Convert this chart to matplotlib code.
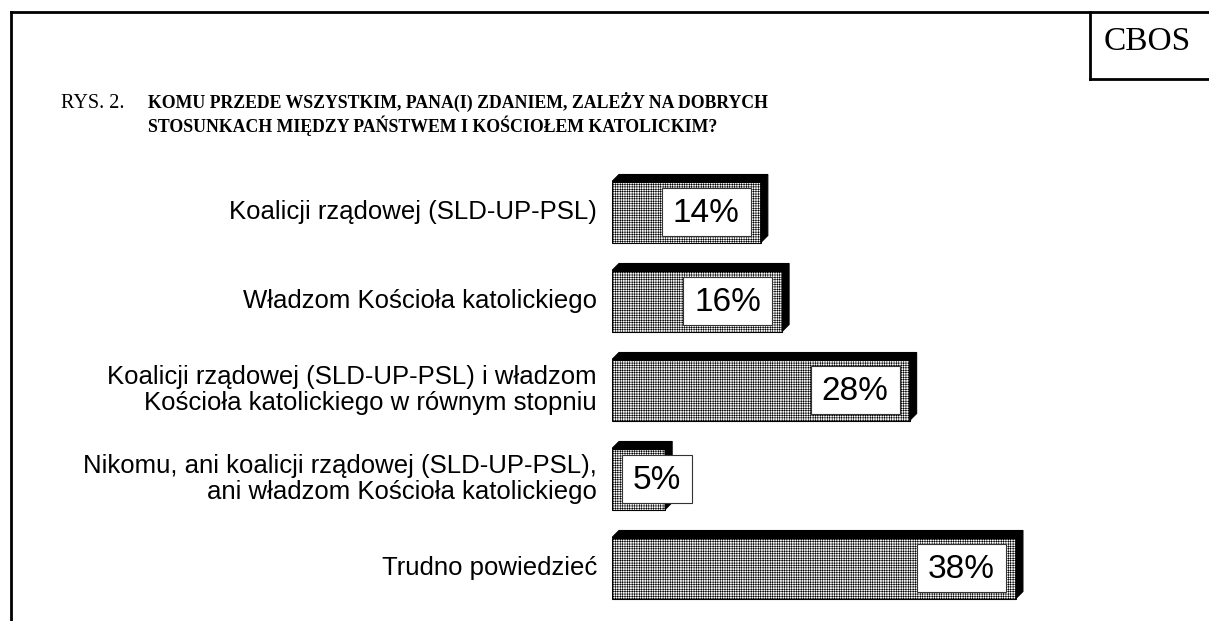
import matplotlib.pyplot as plt
from matplotlib.patches import Polygon, Rectangle
from matplotlib.lines import Line2D

plt.rcParams['hatch.linewidth'] = 0.4
plt.rcParams['hatch.color'] = '#8c8c8c'

categories = [
    'Koalicji rządowej (SLD-UP-PSL)',
    'Władzom Kościoła katolickiego',
    'Koalicji rządowej (SLD-UP-PSL) i władzom\nKościoła katolickiego w równym stopniu',
    'Nikomu, ani koalicji rządowej (SLD-UP-PSL),\nani władzom Kościoła katolickiego',
    'Trudno powiedzieć',
]
values = [14, 16, 28, 5, 38]
value_labels = ['14%', '16%', '28%', '5%', '38%']

W, H = 1209, 621
fig = plt.figure(figsize=(W / 100, H / 100), dpi=100)

# axes: x in percent, 0 at px 612, ~10.63 px per percent
px_per_pct = 10.63
row_px = 89
x0_px, xmax = 612, 46
top_px, bot_px = 167.5, 612.5
ax = fig.add_axes([x0_px / W, 1 - bot_px / H, xmax * px_per_pct / W, (bot_px - top_px) / H])
ax.set_xlim(0, xmax)
ax.set_ylim(len(values) - 0.5, -0.5)
ax.axis('off')

bar_h = 61 / row_px
dx = 7 / px_per_pct
dy = 7 / row_px
ypos = list(range(len(values)))

ax.barh(ypos, values, height=bar_h, color='white', edgecolor='black',
        hatch='+++++++', linewidth=0.8, zorder=2)

fig.canvas.draw()
renderer = fig.canvas.get_renderer()

for y, v, lab, cat in zip(ypos, values, value_labels, categories):
    t = y - bar_h / 2
    b = y + bar_h / 2
    ax.add_patch(Polygon([(0, t), (dx, t - dy), (v + dx, t - dy), (v, t)],
                         closed=True, fc='black', ec='black', lw=0.8, zorder=3))
    ax.add_patch(Polygon([(v, t), (v + dx, t - dy), (v + dx, b - dy), (v, b)],
                         closed=True, fc='black', ec='black', lw=0.8, zorder=3))

    txt = ax.text(0, y, lab, ha='center', va='center', fontsize=24,
                  family='Liberation Sans', zorder=5)
    tw = txt.get_window_extent(renderer).width / px_per_pct
    bw = tw + 22 / px_per_pct
    bh = 48 / row_px
    right = v - 10 / px_per_pct
    left = right - bw
    if left < 10 / px_per_pct:
        left = 10 / px_per_pct
    ax.add_patch(Rectangle((left, y - bh / 2 + 0.005), bw, bh, fc='white',
                           ec='#333333', lw=0.8, zorder=4))
    txt.set_position((left + bw / 2, y + 0.012))

    ax.text(-15 / px_per_pct, y, cat, ha='right', va='center', fontsize=18.5,
            family='Liberation Sans', linespacing=1.1, clip_on=False)

# frame and CBOS box
lw = 2
fig.add_artist(Line2D([11 / W, 11 / W], [0, 1 - 12 / H], color='black', lw=lw))
fig.add_artist(Line2D([11 / W, 1], [1 - 12 / H, 1 - 12 / H], color='black', lw=lw))
fig.add_artist(Line2D([1090 / W, 1090 / W], [1 - 12 / H, 1 - 79 / H], color='black', lw=lw))
fig.add_artist(Line2D([1090 / W, 1], [1 - 79 / H, 1 - 79 / H], color='black', lw=lw))
fig.text(1147 / W, 1 - 42 / H, 'CBOS', ha='center', va='center', fontsize=24,
         family='Liberation Serif')

fig.text(61 / W, 1 - 103 / H, 'RYS. 2.', ha='left', va='center', fontsize=14.5,
         family='Liberation Serif')
fig.text(148 / W, 1 - 114 / H,
         'KOMU PRZEDE WSZYSTKIM, PANA(I) ZDANIEM, ZALEŻY NA DOBRYCH\n'
         'STOSUNKACH MIĘDZY PAŃSTWEM I KOŚCIOŁEM KATOLICKIM?',
         ha='left', va='center', fontsize=12.8, fontweight='bold',
         family='Liberation Serif', linespacing=1.2)

fig.savefig('out.png', dpi=100)
